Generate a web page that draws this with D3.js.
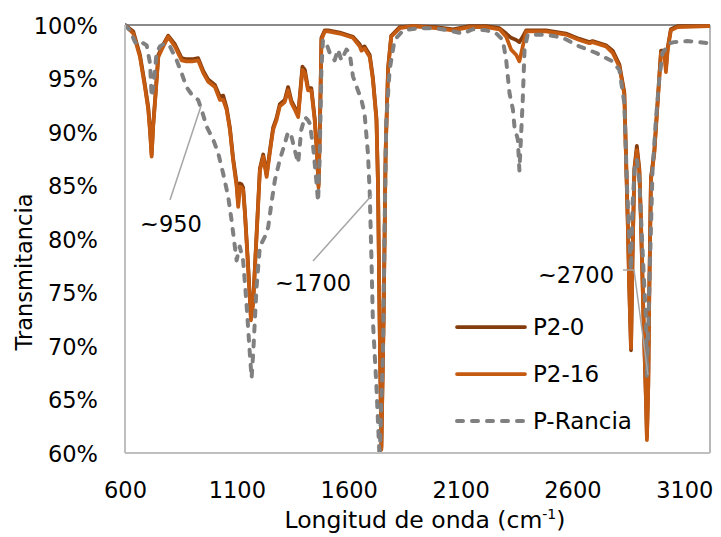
<!DOCTYPE html>
<html><head><meta charset="utf-8">
<script src="https://cdn.jsdelivr.net/npm/d3@7"></script>
<style>body{margin:0;background:#fff}svg{display:block}text{font-family:"DejaVu Sans",Verdana,sans-serif;fill:#000}</style>
</head><body><svg id="c" width="721" height="537"></svg>
<script>
// ---- data ----
const seriesNames = ["P2-0", "P2-16", "P-Rancia"];
const seriesColors = ["#843C0C", "#C55A11", "#808080"];
const xTicks = [600, 1100, 1600, 2100, 2600, 3100];
const yTicks = [60, 65, 70, 75, 80, 85, 90, 95, 100];

const p216_wn = [600,637,667,689,704,712,719,726,734,749,764,793,823,853,875,900,927,950,972,1002,1024,1039,1054,1069,1083,1099,1106,1113,1121,1128,1136,1151,1163,1173,1188,1203,1218,1233,1247,1262,1277,1292,1314,1329,1344,1359,1374,1393,1404,1418,1433,1448,1458,1465,1471,1478,1493,1508,1560,1619,1649,1657,1671,1694,1708,1724,1731,1738,1746,1756,1765,1776,1790,1828,1887,1991,2066,2140,2215,2274,2304,2326,2349,2363,2378,2393,2482,2571,2631,2676,2690,2750,2780,2810,2832,2839,2847,2854,2862,2869,2877,2888,2899,2906,2918,2929,2933,2939,2944,2951,2966,2981,2996,3011,3018,3026,3040,3070,3210];
const p216_t = [100,99.2,97.0,94.2,92.1,90.0,87.7,90.5,92.7,97.0,97.7,98.9,98.0,96.7,96.6,96.6,96.7,95.5,94.7,94.2,93.0,93.0,92.1,90.2,87.4,84.9,83.0,84.9,84.8,84.6,82.4,77.1,72.4,74.0,80.2,86.4,87.7,85.8,88.0,90.2,91.1,92.4,92.8,93.9,92.7,92.1,91.4,95.8,95.5,93.9,93.9,91.1,88.0,84.8,90.0,98.6,99.4,99.4,99.2,98.8,98.0,97.6,97.8,97.0,94.9,91.1,84.9,72.4,60.3,72.4,88.0,95.8,98.9,99.7,99.9,99.7,99.5,99.8,99.8,99.6,98.9,97.7,97.2,96.6,98.0,99.4,99.4,99.1,98.6,98.3,98.4,98.0,97.4,96.1,93.5,88.0,81.8,75.5,69.8,78.6,86.4,88.3,86.4,81.8,72.4,64.7,61.2,66.2,75.5,85.5,88.0,92.7,97.4,97.4,95.6,97.7,99.5,99.8,99.9];

const p20_wn = [600,637,667,689,704,712,719,726,734,749,764,793,823,853,875,900,927,950,972,1002,1024,1039,1054,1069,1083,1099,1106,1113,1121,1128,1136,1151,1163,1173,1188,1203,1218,1233,1247,1262,1277,1292,1314,1329,1344,1359,1374,1393,1404,1418,1433,1448,1458,1465,1471,1478,1493,1508,1560,1619,1649,1657,1671,1694,1708,1724,1731,1738,1746,1756,1765,1776,1790,1828,1887,1991,2066,2140,2215,2274,2304,2326,2349,2363,2378,2393,2482,2571,2631,2676,2690,2750,2780,2810,2832,2839,2847,2854,2862,2869,2877,2888,2899,2906,2918,2929,2933,2939,2944,2951,2966,2981,2996,3011,3018,3026,3040,3070,3210];
const p20_t = [100,99.4,97.2,94.4,92.3,90.2,87.9,90.7,92.9,97.2,97.9,99.0,98.2,96.9,96.8,96.8,96.9,95.7,94.9,94.4,93.3,93.4,92.3,90.4,87.6,85.2,83.3,85.2,85.1,84.8,82.6,77.3,72.6,74.2,80.4,86.6,87.9,86.0,88.2,90.4,91.3,92.6,93.0,94.2,92.9,92.3,91.6,96.1,95.8,94.1,94.1,91.3,88.2,85.0,90.2,98.8,99.5,99.5,99.3,98.9,98.2,97.8,98.0,97.2,95.1,91.3,85.1,72.6,60.5,72.6,88.2,96.0,99.0,99.8,99.9,99.8,99.6,99.9,99.9,99.7,99.2,98.8,98.6,98.4,98.9,99.5,99.5,99.2,98.7,98.4,98.5,98.1,97.6,96.3,93.7,88.2,82.0,75.5,69.6,78.8,86.6,88.7,86.6,82.0,72.6,64.9,61.5,66.4,75.7,85.7,88.2,92.9,97.6,97.6,96.0,97.9,99.6,99.9,99.9];

const prancia_wn = [600,622,645,659,682,697,712,719,726,734,741,756,779,801,831,853,875,905,927,942,965,994,1017,1039,1061,1076,1091,1099,1106,1113,1128,1143,1158,1166,1173,1188,1203,1225,1240,1255,1270,1292,1314,1329,1344,1359,1374,1388,1404,1418,1426,1441,1455,1463,1470,1478,1485,1500,1515,1537,1552,1567,1590,1604,1619,1641,1657,1671,1686,1694,1701,1708,1724,1738,1753,1761,1768,1783,1805,1843,1917,1991,2066,2110,2155,2215,2260,2289,2304,2319,2334,2341,2356,2363,2371,2378,2386,2400,2482,2557,2631,2705,2780,2810,2832,2844,2854,2862,2869,2880,2888,2899,2914,2929,2933,2940,2948,2958,2973,2988,3003,3018,3033,3055,3115,3210];
const prancia_t = [100,99.5,98.4,98.1,98.3,98.1,96.4,93.3,94.2,95.8,97.4,98.0,98.3,98.0,96.7,95.5,94.2,93.3,93.0,92.1,90.5,89.3,88.0,86.1,84.0,81.8,79.3,78.0,78.7,79.3,78.0,74.0,69.3,67.0,69.3,75.5,79.3,80.2,81.1,83.4,85.5,87.4,88.9,90.0,89.6,88.3,87.1,90.2,91.4,91.1,90.8,88.6,85.5,83.5,87.4,95.8,98.6,98.3,97.4,96.7,97.7,96.7,97.7,97.4,95.2,93.9,93.0,91.7,88.0,84.3,78.7,72.4,66.2,59.5,69.3,81.8,91.1,95.8,98.6,99.5,99.7,99.7,99.4,99.2,99.6,99.5,99.2,98.6,96.7,93.6,92.1,90.5,89.3,86.4,89.9,93.0,97.7,99.1,99.1,98.8,98.0,97.4,96.6,95.8,92.7,84.9,80.2,77.1,83.3,87.1,87.4,85.5,78.7,72.4,67.1,72.4,78.7,86.4,91.1,94.9,97.4,97.8,98.3,98.4,98.5,98.3];

const annotations = ["~950", "~1700", "~2700"];

// ---- layout ----
const svg = d3.select("#c");
const L = 125, R = 710, T = 25, B = 453;
const x = d3.scaleLinear().domain([600, 3215]).range([L, R]);
const y = d3.scaleLinear().domain([60, 100]).range([B, T]);

svg.append("defs").append("clipPath").attr("id","clip")
  .append("rect").attr("x", L).attr("y", T - 2).attr("width", R - L).attr("height", B - T + 2);

// plot border
svg.append("line").attr("x1", L).attr("x2", R).attr("y1", T).attr("y2", T).attr("stroke", "#8a8a8a").attr("stroke-width", 2);
svg.append("line").attr("x1", R).attr("x2", R).attr("y1", T).attr("y2", B).attr("stroke", "#a0a0a0").attr("stroke-width", 1.5);

const series = [
  {name: seriesNames[0], color: seriesColors[0], wn: p20_wn, t: p20_t, dash: null},
  {name: seriesNames[1], color: seriesColors[1], wn: p216_wn, t: p216_t, dash: null},
  {name: seriesNames[2], color: seriesColors[2], wn: prancia_wn, t: prancia_t, dash: "6,9"}
];

const line = d3.line().x(d => x(d[0])).y(d => y(d[1]));
const g = svg.append("g").attr("clip-path", "url(#clip)");
series.forEach(s => {
  g.append("path").datum(d3.zip(s.wn, s.t)).attr("d", line)
    .attr("fill", "none").attr("stroke", s.color).attr("stroke-width", s.dash ? 4 : 3.75)
    .attr("stroke-linejoin", "round").attr("stroke-linecap", "round")
    .attr("stroke-dasharray", s.dash);
});

// axes lines (left, bottom)
svg.append("line").attr("x1", L).attr("x2", L).attr("y1", T).attr("y2", B).attr("stroke", "#bfbfbf").attr("stroke-width", 2);
svg.append("line").attr("x1", L).attr("x2", R).attr("y1", B).attr("y2", B).attr("stroke", "#bfbfbf").attr("stroke-width", 2);

// axes via d3 (ticks hidden)
const xAxis = d3.axisBottom(x).tickValues(xTicks).tickSize(0).tickPadding(0).tickFormat(d3.format("d"));
const xg = svg.append("g").attr("transform", `translate(0,${B})`).call(xAxis);
xg.select(".domain").remove();
xg.selectAll("text").attr("y", 45).attr("dy", null).style("font-size", "22.5px").style("font-family", '"DejaVu Sans",Verdana,sans-serif').attr("fill", "#000");

const yAxis = d3.axisLeft(y).tickValues(yTicks).tickSize(0).tickPadding(0).tickFormat(d => d + "%");
const yg = svg.append("g").attr("transform", `translate(98,0)`).call(yAxis);
yg.select(".domain").remove();
yg.selectAll("text").attr("x", 0).attr("dy", "0.36em").style("font-size", "22.5px").style("font-family", '"DejaVu Sans",Verdana,sans-serif').attr("fill", "#000");

// axis titles
const xt = svg.append("text").attr("x", 425).attr("y", 528).attr("text-anchor", "middle").style("font-size", "23.5px");
xt.append("tspan").text("Longitud de onda (cm");
xt.append("tspan").attr("dy", -9).style("font-size", "14px").text("-1");
xt.append("tspan").attr("dy", 9).text(")");

svg.append("text").attr("transform", "translate(32,272) rotate(-90)").attr("text-anchor", "middle")
  .style("font-size", "22.5px").text("Transmitancia");

// annotations
const lead = "#a6a6a6";
svg.append("line").attr("x1", 201).attr("y1", 106).attr("x2", 170).attr("y2", 200).attr("stroke", lead).attr("stroke-width", 1.5);
svg.append("text").attr("x", 171).attr("y", 232).attr("text-anchor", "middle").style("font-size", "22.5px").text(annotations[0]);
svg.append("line").attr("x1", 372).attr("y1", 195).attr("x2", 313).attr("y2", 261).attr("stroke", lead).attr("stroke-width", 1.5);
svg.append("text").attr("x", 313).attr("y", 291).attr("text-anchor", "middle").style("font-size", "22.5px").text(annotations[1]);
svg.append("polyline").attr("points", "623,270 634,270 648,375").attr("fill", "none").attr("stroke", lead).attr("stroke-width", 1.5);
svg.append("text").attr("x", 614).attr("y", 283).attr("text-anchor", "end").style("font-size", "22.5px").text(annotations[2]);

// legend
const ly = [327, 374, 421];
series.forEach((s, i) => {
  svg.append("line").attr("x1", 457).attr("x2", 525).attr("y1", ly[i]).attr("y2", ly[i])
    .attr("stroke", s.color).attr("stroke-width", s.dash ? 4 : 3.75).attr("stroke-linecap", "round")
    .attr("stroke-dasharray", s.dash);
  svg.append("text").attr("x", 533).attr("y", ly[i]).attr("dy", "0.36em").style("font-size", "23px").text(s.name);
});
</script></body></html>
